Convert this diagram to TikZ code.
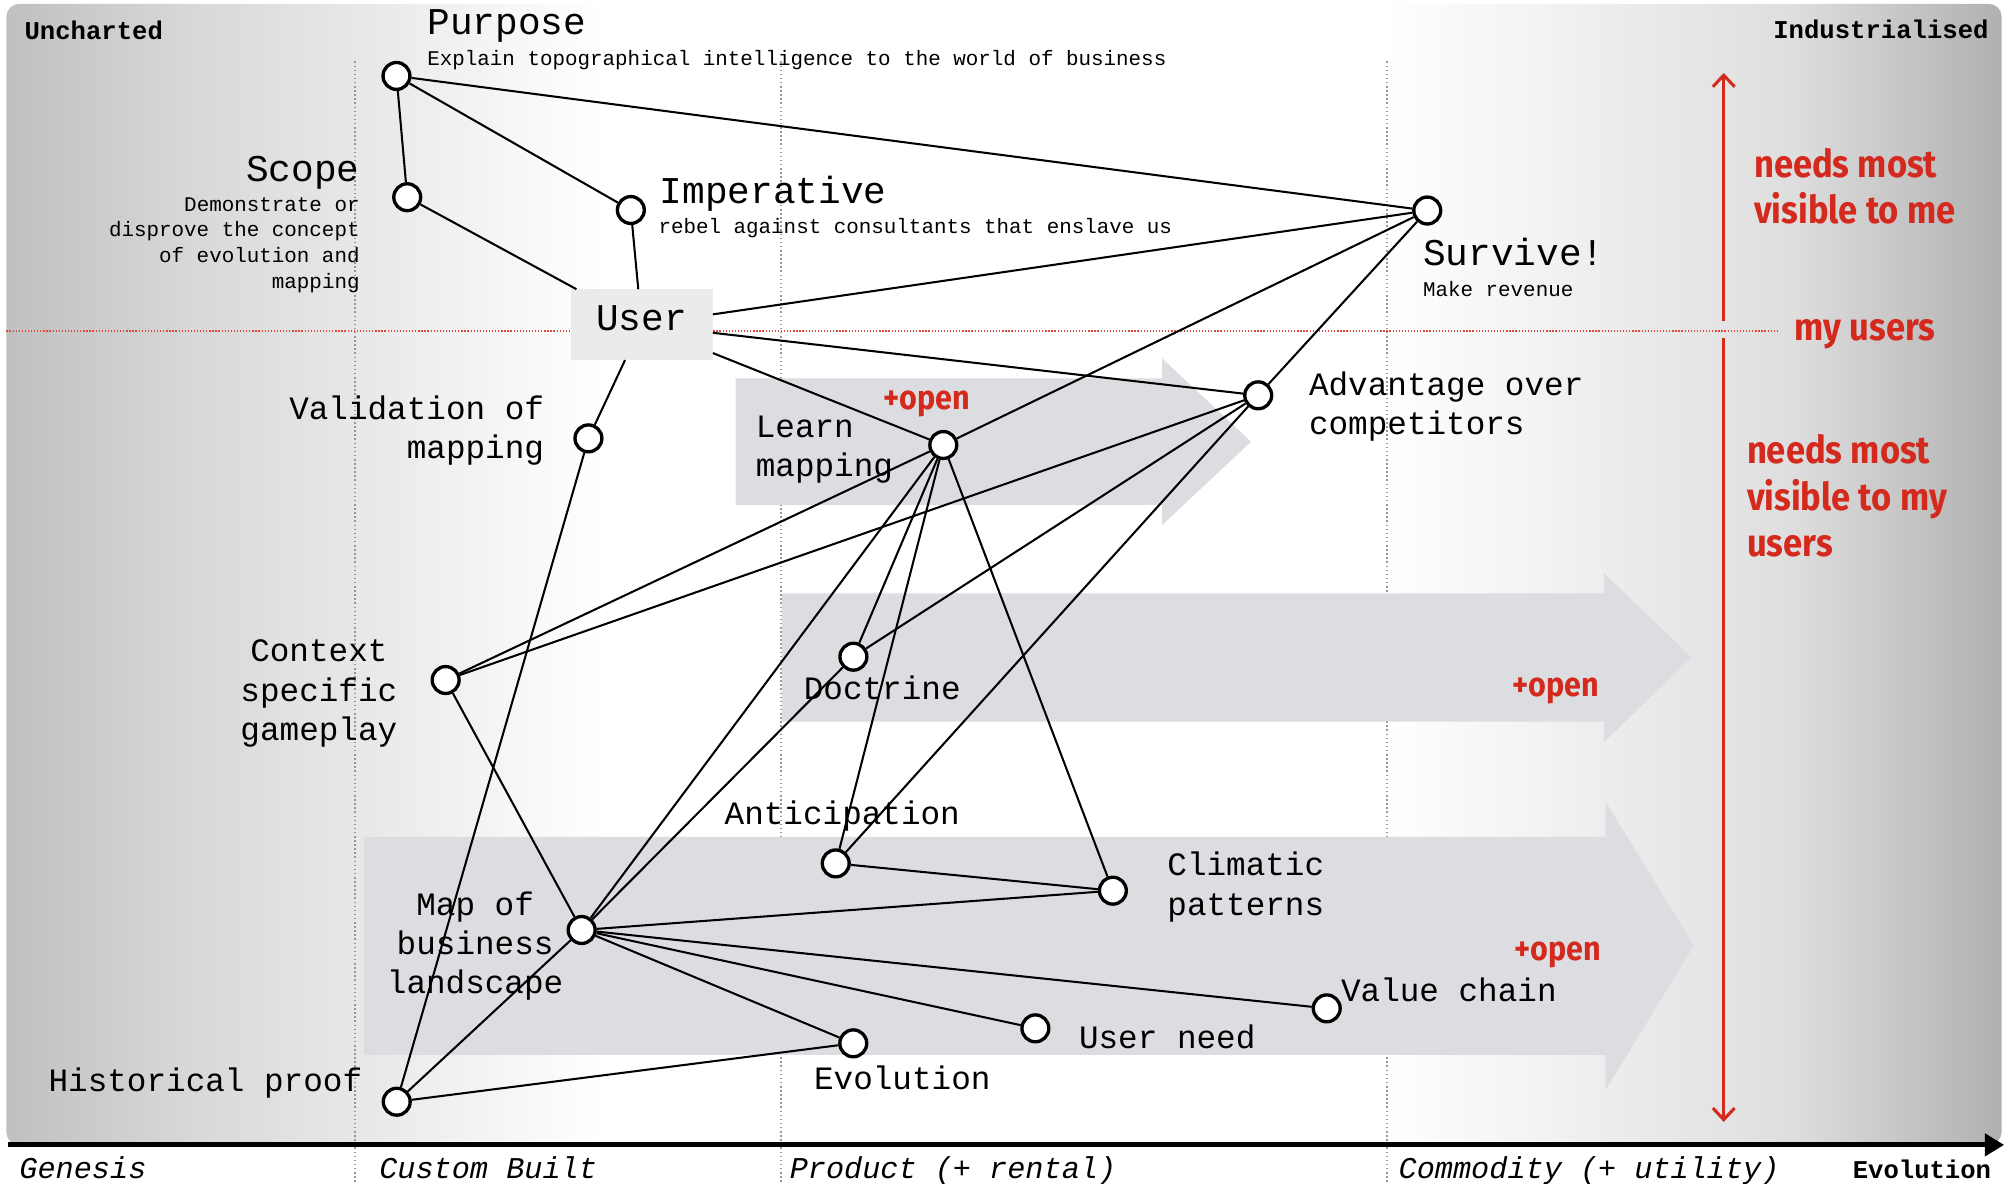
\documentclass[tikz,border=0pt]{standalone}
\usepackage{fontspec}
\setmonofont{Liberation Mono}
\newfontfamily\handfont{Fira Sans}[FakeStretch=0.9]
\usetikzlibrary{arrows.meta}

\definecolor{mapred}{RGB}{212,42,30}
\definecolor{evofill}{RGB}{220,221,224}
\definecolor{userfill}{RGB}{235,235,235}
\definecolor{gridgrey}{RGB}{150,150,150}
\definecolor{bgA}{RGB}{192,192,192}
\definecolor{bgB}{RGB}{216,216,216}
\definecolor{bgC}{RGB}{222,222,222}
\definecolor{bgD}{RGB}{176,176,176}

\begin{document}
\begin{tikzpicture}[x=1pt,y=-1pt,
  edge/.style={line width=1.6pt, black},
  comp/.style={circle, draw=black, fill=white, line width=2.6pt,
    minimum size=21pt, inner sep=0pt},
  userbox/.style={rectangle, fill=userfill, minimum width=111pt,
    minimum height=55pt, inner sep=0pt, text height=16.8pt, text depth=8.4pt,
    font=\ttfamily\fontsize{29.5}{35}\selectfont},
  title/.style={inner sep=0pt, font=\ttfamily\fontsize{29.5}{35}\selectfont},
  subtitle/.style={inner sep=0pt, font=\ttfamily\fontsize{16.3}{20}\selectfont},
  lbl/.style={inner sep=0pt, font=\ttfamily\fontsize{25.5}{30.5}\selectfont},
  corner/.style={inner sep=0pt, font=\ttfamily\bfseries\fontsize{20}{24}\selectfont},
  stage/.style={inner sep=0pt, font=\ttfamily\itshape\fontsize{23.6}{28}\selectfont},
  note/.style={inner sep=0pt, text=mapred, align=left,
    font=\handfont\bfseries\fontsize{30}{36.5}\selectfont},
  opennote/.style={inner sep=0pt, text=mapred,
    font=\handfont\bfseries\fontsize{26.5}{30}\selectfont},
  gridline/.style={gridgrey, line width=1.3pt, dash pattern=on 1.2pt off 2pt},
  evoarrow/.style={fill=evofill},
  redaxis/.style={mapred, line width=2.4pt, -{Straight Barb[length=9pt,width=17pt]}}
]
\useasboundingbox (0,0) rectangle (1568,924);
\fill[white] (0,0) rectangle (1568,924);

% landscape background, darker towards genesis and commodity
\begin{scope}
  \clip[rounded corners=10pt] (5,3) rectangle (1563,894);
  \shade[left color=bgA, right color=bgB] (4,0) rectangle (150.5,900);
  \shade[left color=bgB, right color=white] (150,0) rectangle (470.5,900);
  \fill[white] (470,0) rectangle (1080.5,900);
  \shade[left color=white, right color=bgC] (1080,0) rectangle (1400.5,900);
  \shade[left color=bgC, right color=bgD] (1400,0) rectangle (1564,900);
\end{scope}

% stage boundaries
\coordinate (g1t) at (277,48);   \coordinate (g1b) at (277,924);
\coordinate (g2t) at (610,48);   \coordinate (g2b) at (610,924);
\coordinate (g3t) at (1083,48);  \coordinate (g3b) at (1083,924);
\draw[gridline] (g1t) -- (g1b);
\draw[gridline] (g2t) -- (g2b);
\draw[gridline] (g3t) -- (g3b);

% visibility boundary
\coordinate (vL) at (5,258.5);
\coordinate (vR) at (1388,258.5);
\draw[mapred!85, line width=1.2pt, dash pattern=on 1pt off 1.4pt] (vL) -- (vR);

% evolution arrows
\fill[evoarrow] (574.5,295.4) -- (907.4,295.4) -- (907.4,279.8) -- (976.9,344.9)
  -- (907.4,410) -- (907.4,394.3) -- (574.5,394.3) -- cycle;
\fill[evoarrow] (610.5,463.3) -- (1252.6,463.3) -- (1252.6,447.7) -- (1321,513.4)
  -- (1252.6,579.2) -- (1252.6,563.5) -- (610.5,563.5) -- cycle;
\fill[evoarrow] (283.9,653.4) -- (1253.8,653.4) -- (1253.8,626) -- (1322.8,738.5)
  -- (1253.8,851) -- (1253.8,823.8) -- (283.9,823.8) -- cycle;

% components
\node[comp] (purpose) at (309.6,59.3) {};
\node[comp] (scope) at (318,154) {};
\node[comp] (imperative) at (492.6,164) {};
\node[comp] (survive) at (1114.5,164.4) {};
\node[comp] (validation) at (459.5,342.3) {};
\node[comp] (learn) at (736.6,347.5) {};
\node[comp] (advantage) at (982.5,308.7) {};
\node[comp] (context) at (348,531) {};
\node[comp] (doctrine) at (666.4,512.8) {};
\node[comp] (anticipation) at (652.6,674.2) {};
\node[comp] (climatic) at (869,695.5) {};
\node[comp] (map) at (454.2,726.2) {};
\node[comp] (valuechain) at (1036,787.4) {};
\node[comp] (userneed) at (808.5,803) {};
\node[comp] (evolution) at (666.3,814.7) {};
\node[comp] (historical) at (309.8,860.3) {};

% the user anchor
\node[userbox] (user) at (501,253.5) {User};

% dependencies
\draw[edge] (purpose) -- (scope);
\draw[edge] (purpose) -- (imperative);
\draw[edge] (purpose) -- (survive);
\draw[edge] (scope) -- (user);
\draw[edge] (imperative) -- (user);
\draw[edge] (validation) -- (user);
\draw[edge] (survive) -- (user);
\draw[edge] (learn) -- (user);
\draw[edge] (advantage) -- (user);
\draw[edge] (validation) -- (historical);
\draw[edge] (context) -- (learn);
\draw[edge] (context) -- (advantage);
\draw[edge] (context) -- (map);
\draw[edge] (learn) -- (survive);
\draw[edge] (learn) -- (map);
\draw[edge] (learn) -- (doctrine);
\draw[edge] (learn) -- (anticipation);
\draw[edge] (learn) -- (climatic);
\draw[edge] (advantage) -- (survive);
\draw[edge] (advantage) -- (doctrine);
\draw[edge] (advantage) -- (anticipation);
\draw[edge] (doctrine) -- (map);
\draw[edge] (anticipation) -- (climatic);
\draw[edge] (map) -- (climatic);
\draw[edge] (map) -- (valuechain);
\draw[edge] (map) -- (userneed);
\draw[edge] (map) -- (evolution);
\draw[edge] (map) -- (historical);
\draw[edge] (evolution) -- (historical);

% labels (multi-line labels are placed by the baseline of their last line)
\node[title, anchor=base west] (purposeT) at (333.5,27) {Purpose};
\node[subtitle, anchor=base west] (purposeS) at (333.5,50.8)
  {Explain topographical intelligence to the world of business};
\node[title, anchor=base east] (scopeT) at (281,141.9) {Scope};
\node[subtitle, anchor=base east, align=right] (scopeS) at (281,225)
  {Demonstrate or\\disprove the concept\\of evolution and\\mapping};
\node[title, anchor=base west] (imperativeT) at (515,158.7) {Imperative};
\node[subtitle, anchor=base west] (imperativeS) at (514,182)
  {rebel against consultants that enslave us};
\node[title, anchor=base west] (surviveT) at (1111,207.7) {Survive!};
\node[subtitle, anchor=base west] (surviveS) at (1111,231.6) {Make revenue};
\node[lbl, anchor=base east, align=right] (validationL) at (425,358)
  {Validation of\\mapping};
\node[lbl, anchor=base west, align=left] (learnL) at (590,372.2) {Learn\\mapping};
\node[lbl, anchor=base west, align=left] (advantageL) at (1022,339)
  {Advantage over\\competitors};
\node[lbl, anchor=base, align=center] (contextL) at (249,577.9)
  {Context\\specific\\gameplay};
\node[lbl, anchor=base west] (doctrineL) at (627.5,546.6) {Doctrine};
\node[lbl, anchor=base west] (anticipationL) at (565.7,644.2) {Anticipation};
\node[lbl, anchor=base west, align=left] (climaticL) at (911.4,714.5)
  {Climatic\\patterns};
\node[lbl, anchor=base, align=center] (mapL) at (371,775.7)
  {Map of\\business\\landscape};
\node[lbl, anchor=base west] (valuechainL) at (1047,782.2) {Value chain};
\node[lbl, anchor=base west] (userneedL) at (842.4,818.7) {User need};
\node[lbl, anchor=base west] (evolutionL) at (635.5,851) {Evolution};
\node[lbl, anchor=base east] (historicalL) at (283,852.5) {Historical proof};

% openness notes
\node[opennote, anchor=base west] (open1) at (689.5,320) {+open};
\node[opennote, anchor=base west] (open2) at (1181,544) {+open};
\node[opennote, anchor=base west] (open3) at (1182.5,749.7) {+open};

% visibility scale
\coordinate (rTopTip) at (1346,57);
\coordinate (rTopBase) at (1346,251);
\coordinate (rBotBase) at (1346,264);
\coordinate (rBotTip) at (1346,876);
\draw[redaxis] (rTopBase) -- (rTopTip);
\draw[redaxis] (rBotBase) -- (rBotTip);
\node[note, anchor=base west] (needsMe) at (1369.5,174.8) {needs most\\visible to me};
\node[note, anchor=base west] (myUsers) at (1401,266) {my users};
\node[note, anchor=base west] (needsUsers) at (1364,434.8)
  {needs most\\visible to my\\users};

% corners
\node[corner, anchor=base west] (uncharted) at (19,31) {Uncharted};
\node[corner, anchor=base east] (industrialised) at (1553,30) {Industrialised};

% evolution axis
\coordinate (axisL) at (6,894);
\coordinate (axisR) at (1565,894);
\draw[line width=4pt, -{Triangle[length=15pt,width=17pt]}] (axisL) -- (axisR);
\node[stage, anchor=base west] (genesis) at (15,920) {Genesis};
\node[stage, anchor=base west] (custom) at (296,920) {Custom Built};
\node[stage, anchor=base west] (product) at (616.5,920) {Product (+ rental)};
\node[stage, anchor=base west] (commodity) at (1092,920) {Commodity (+ utility)};
\node[corner, anchor=base east] (evolutionAxis) at (1555,920) {Evolution};
\end{tikzpicture}
\end{document}
